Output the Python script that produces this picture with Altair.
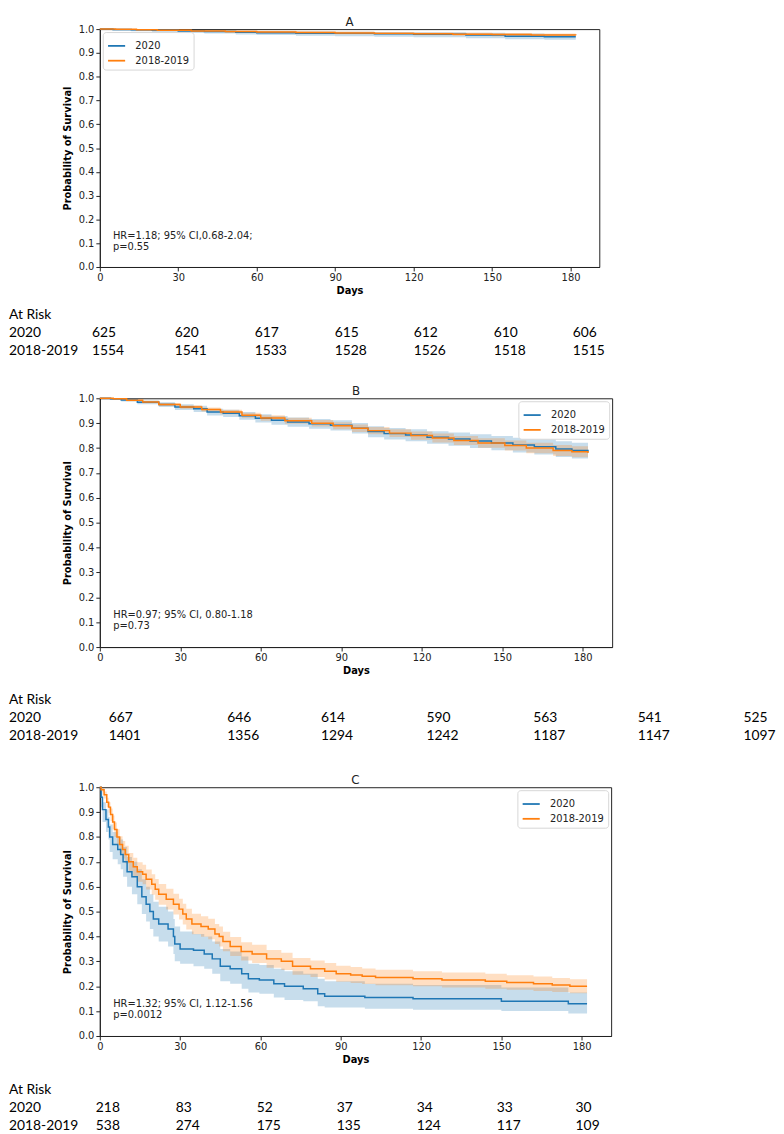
import altair as alt
import pandas as pd

groups = ["2020", "2018-2019"]
palette = ["#1f77b4", "#ff7f0e"]
tick_days = [0, 30, 60, 90, 120, 150, 180]
prob_ticks = [0.0, 0.1, 0.2, 0.3, 0.4, 0.5, 0.6, 0.7, 0.8, 0.9, 1.0]
row_labels = ["At Risk", "2020", "2018-2019"]

# panel A
a_days_2020 = [0, 5, 12, 20, 30, 40, 52, 60, 75, 90, 105, 120, 140, 155, 170, 182]
a_surv_2020 = [1.0, 0.998, 0.997, 0.995, 0.992, 0.99, 0.987, 0.985, 0.983, 0.982, 0.98, 0.978, 0.975, 0.97, 0.968, 0.968]
a_lo_2020 = [1.0, 0.994, 0.991, 0.988, 0.984, 0.981, 0.977, 0.975, 0.972, 0.97, 0.968, 0.966, 0.962, 0.957, 0.955, 0.955]
a_hi_2020 = [1.0, 1.0, 0.999, 0.998, 0.996, 0.995, 0.993, 0.992, 0.99, 0.989, 0.988, 0.987, 0.985, 0.981, 0.979, 0.979]
a_days_2018 = [0, 6, 14, 22, 35, 48, 60, 75, 90, 105, 120, 135, 150, 165, 182]
a_surv_2018 = [1.0, 0.999, 0.997, 0.995, 0.992, 0.99, 0.988, 0.986, 0.984, 0.982, 0.98, 0.978, 0.977, 0.975, 0.974]
a_lo_2018 = [1.0, 0.997, 0.994, 0.992, 0.988, 0.985, 0.983, 0.98, 0.978, 0.976, 0.974, 0.972, 0.97, 0.968, 0.967]
a_hi_2018 = [1.0, 1.0, 0.999, 0.998, 0.996, 0.994, 0.993, 0.991, 0.99, 0.988, 0.986, 0.985, 0.984, 0.982, 0.981]
a_risk_2020 = [625, 620, 617, 615, 612, 610, 606]
a_risk_2018 = [1554, 1541, 1533, 1528, 1526, 1518, 1515]
a_note = ["HR=1.18; 95% CI,0.68-2.04;", "p=0.55"]

# panel B
b_days_2020 = [0, 4, 8, 14, 22, 28, 35, 40, 46, 52, 58, 64, 70, 78, 86, 94, 100, 106, 114, 122, 130, 138, 146, 154, 162, 170, 176, 182]
b_surv_2020 = [1.0, 0.998, 0.993, 0.984, 0.975, 0.965, 0.958, 0.945, 0.94, 0.93, 0.92, 0.912, 0.905, 0.898, 0.892, 0.88, 0.866, 0.858, 0.852, 0.843, 0.836, 0.828, 0.82, 0.812, 0.805, 0.796, 0.79, 0.785]
b_lo_2020 = [1.0, 0.995, 0.987, 0.976, 0.965, 0.953, 0.945, 0.931, 0.925, 0.914, 0.903, 0.894, 0.886, 0.878, 0.871, 0.858, 0.843, 0.834, 0.827, 0.817, 0.809, 0.8, 0.791, 0.782, 0.774, 0.764, 0.758, 0.753]
b_hi_2020 = [1.0, 1.0, 0.998, 0.991, 0.984, 0.976, 0.97, 0.958, 0.954, 0.945, 0.936, 0.929, 0.923, 0.917, 0.912, 0.901, 0.888, 0.881, 0.876, 0.868, 0.862, 0.855, 0.848, 0.841, 0.835, 0.827, 0.821, 0.816]
b_days_2018 = [0, 5, 10, 16, 22, 30, 38, 45, 53, 60, 69, 79, 87, 94, 100, 108, 116, 124, 132, 141, 151, 159, 169, 176, 182]
b_surv_2018 = [1.0, 0.998, 0.992, 0.985, 0.975, 0.965, 0.955, 0.945, 0.932, 0.921, 0.91, 0.9, 0.89, 0.88, 0.87, 0.86, 0.85, 0.84, 0.83, 0.82, 0.81, 0.8, 0.79, 0.785, 0.78]
b_lo_2018 = [1.0, 0.996, 0.988, 0.98, 0.969, 0.958, 0.947, 0.936, 0.922, 0.91, 0.898, 0.887, 0.876, 0.865, 0.855, 0.844, 0.833, 0.822, 0.812, 0.801, 0.79, 0.779, 0.768, 0.763, 0.758]
b_hi_2018 = [1.0, 0.999, 0.995, 0.99, 0.981, 0.972, 0.963, 0.954, 0.942, 0.932, 0.922, 0.913, 0.904, 0.895, 0.885, 0.876, 0.867, 0.858, 0.848, 0.839, 0.83, 0.821, 0.812, 0.807, 0.802]
b_risk_2020 = [667, 646, 614, 590, 563, 541, 525]
b_risk_2018 = [1401, 1356, 1294, 1242, 1187, 1147, 1097]
b_note = ["HR=0.97; 95% CI, 0.80-1.18", "p=0.73"]

# panel C
c_days_2020 = [0, 0.5, 1, 2.3, 3.2, 3.7, 4.8, 6.7, 7.8, 8.7, 10.2, 12, 14, 15.7, 17.3, 18.7, 20, 22, 25.5, 27.5,
               28, 30, 35, 39, 42, 45, 48.7, 53, 55.5, 59.6, 65, 69, 76, 81.4, 84, 99, 117, 150, 175, 182]
c_surv_2020 = [1.0, 0.96, 0.91, 0.87, 0.84, 0.80, 0.77, 0.75, 0.73, 0.70, 0.66, 0.64, 0.60, 0.56, 0.53, 0.50, 0.47, 0.45, 0.43, 0.40,
               0.37, 0.35, 0.345, 0.33, 0.31, 0.28, 0.27, 0.25, 0.23, 0.225, 0.21, 0.20, 0.19, 0.17, 0.16, 0.155, 0.15, 0.14, 0.13, 0.13]
c_lo_2020 = [1.0, 0.92, 0.86, 0.82, 0.79, 0.74, 0.71, 0.69, 0.67, 0.64, 0.60, 0.57, 0.53, 0.49, 0.46, 0.43, 0.40, 0.38, 0.36, 0.33,
             0.30, 0.29, 0.28, 0.27, 0.25, 0.22, 0.21, 0.19, 0.175, 0.17, 0.155, 0.145, 0.14, 0.12, 0.115, 0.11, 0.105, 0.10, 0.09, 0.09]
c_hi_2020 = [1.0, 0.98, 0.94, 0.91, 0.88, 0.85, 0.82, 0.80, 0.79, 0.76, 0.72, 0.70, 0.67, 0.63, 0.60, 0.57, 0.54, 0.52, 0.50, 0.47,
             0.44, 0.42, 0.41, 0.40, 0.38, 0.35, 0.34, 0.32, 0.29, 0.285, 0.27, 0.26, 0.25, 0.23, 0.22, 0.21, 0.205, 0.195, 0.175, 0.175]
c_days_2018 = [0, 0.5, 1.6, 2.6, 3.3, 4, 4.8, 5.5, 6.4, 7.4, 8.5, 9.5, 10.8, 12.5, 14, 16, 17.3, 19.4, 20.7, 22,
               24.8, 27.5, 29.6, 31, 32.3, 34.4, 37.8, 40.5, 43, 44.6, 46, 48.7, 52.8, 56.9, 62.3, 67.8, 72, 78.7, 84, 88.3,
               93.7, 98, 103, 117, 127.8, 144, 152, 162, 169, 175.6, 182]
c_surv_2018 = [1.0, 0.99, 0.97, 0.94, 0.92, 0.89, 0.86, 0.83, 0.80, 0.77, 0.75, 0.73, 0.70, 0.68, 0.66, 0.65, 0.63, 0.61, 0.59, 0.57,
               0.55, 0.53, 0.51, 0.49, 0.47, 0.45, 0.44, 0.43, 0.41, 0.40, 0.38, 0.36, 0.34, 0.33, 0.31, 0.30, 0.28, 0.27, 0.26, 0.25,
               0.245, 0.24, 0.235, 0.23, 0.225, 0.22, 0.215, 0.21, 0.205, 0.20, 0.20]
c_lo_2018 = [1.0, 0.98, 0.955, 0.92, 0.897, 0.864, 0.832, 0.8, 0.767, 0.735, 0.714, 0.693, 0.662, 0.641, 0.62, 0.61, 0.589, 0.568, 0.548, 0.528,
             0.508, 0.488, 0.468, 0.448, 0.428, 0.409, 0.399, 0.389, 0.37, 0.36, 0.341, 0.322, 0.303, 0.293, 0.274, 0.265, 0.246, 0.237, 0.227, 0.218,
             0.213, 0.209, 0.204, 0.2, 0.195, 0.19, 0.186, 0.181, 0.177, 0.172, 0.172]
c_hi_2018 = [1.0, 0.998, 0.983, 0.958, 0.94, 0.914, 0.886, 0.858, 0.831, 0.803, 0.784, 0.765, 0.736, 0.717, 0.698, 0.688, 0.669, 0.65, 0.631, 0.611,
             0.592, 0.572, 0.552, 0.532, 0.512, 0.491, 0.481, 0.471, 0.45, 0.44, 0.419, 0.398, 0.377, 0.367, 0.346, 0.335, 0.314, 0.303, 0.293, 0.282,
             0.277, 0.271, 0.266, 0.26, 0.255, 0.25, 0.244, 0.239, 0.233, 0.228, 0.228]
c_risk_2020 = [218, 83, 52, 37, 34, 33, 30]
c_risk_2018 = [538, 274, 175, 135, 124, 117, 109]
c_note = ["HR=1.32; 95% CI, 1.12-1.56", "p=0.0012"]

note_x = 5
note_y = [0.13, 0.085]

FONT = "DejaVu Sans"


def km_frame(series):
    parts = []
    for group, days, surv, lo, hi in series:
        parts.append(pd.DataFrame({"group": group, "day": days, "surv": surv, "lo": lo, "hi": hi}))
    return pd.concat(parts, ignore_index=True)


def km_panel(name, df, note, width, height, orient):
    xscale = alt.Scale(domain=[0, 191], nice=False, zero=False)
    yscale = alt.Scale(domain=[0, 1], nice=False)
    xaxis = alt.Axis(values=tick_days, titlePadding=3, labelFlush=False, labelOverlap=False)
    yaxis = alt.Axis(values=prob_ticks, format=".1f", titlePadding=6,
                     labelFlush=False, labelOverlap=False)
    x = alt.X("day:Q", title="Days", scale=xscale, axis=xaxis)
    cscale = alt.Scale(domain=groups, range=palette)
    legend = alt.Legend(
        title=None, orient=orient, offset=3, symbolType="stroke",
        symbolSize=300, symbolStrokeWidth=1.8, symbolOpacity=1, labelFont=FONT,
        labelFontSize=10, labelColor="#222", labelOffset=9,
        padding=4, rowPadding=0, strokeColor="#d6d6d6",
        fillColor="white", cornerRadius=3,
    )

    band = alt.Chart(df).mark_area(interpolate="step-after", opacity=0.25).encode(
        x=x,
        y=alt.Y("lo:Q", title="Probability of Survival", scale=yscale, axis=yaxis),
        y2="hi:Q",
        color=alt.Color("group:N", scale=cscale, legend=legend),
    )
    line = alt.Chart(df).mark_line(interpolate="step-after", strokeWidth=1.5).encode(
        x=x,
        y=alt.Y("surv:Q", title="Probability of Survival", scale=yscale, axis=yaxis),
        color=alt.Color("group:N", scale=cscale, legend=legend),
    )
    notes = alt.Chart(pd.DataFrame({"day": [note_x, note_x], "surv": note_y, "text": note})).mark_text(
        align="left", baseline="middle", font=FONT, fontSize=10, color="#222"
    ).encode(
        x=x,
        y=alt.Y("surv:Q", title="Probability of Survival", scale=yscale, axis=yaxis),
        text="text:N",
    )

    return alt.layer(band, line, notes).properties(
        width=width, height=height,
        title=alt.TitleParams(name, font=FONT, fontSize=12, fontWeight="normal",
                              color="#222", offset=-5, frame="group"),
    )


def risk_table(n_2020, n_2018, cols_px, rows_px, width, height):
    recs = [{"col": 0, "row": i, "text": t} for i, t in enumerate(row_labels)]
    for j, (a, b) in enumerate(zip(n_2020, n_2018)):
        recs.append({"col": j + 1, "row": 1, "text": str(a)})
        recs.append({"col": j + 1, "row": 2, "text": str(b)})
    return alt.Chart(pd.DataFrame(recs)).mark_text(
        align="left", baseline="middle", font="Lato", fontSize=14, color="black"
    ).encode(
        x=alt.X("col:Q", scale=alt.Scale(domain=list(range(8)), range=cols_px, nice=False, zero=False), axis=None),
        y=alt.Y("row:Q", scale=alt.Scale(domain=[0, 1, 2], range=rows_px, nice=False, zero=False), axis=None),
        text="text:N",
    ).properties(width=width, height=height, view=alt.ViewBackground(stroke="transparent"))


df_a = km_frame([("2020", a_days_2020, a_surv_2020, a_lo_2020, a_hi_2020),
                 ("2018-2019", a_days_2018, a_surv_2018, a_lo_2018, a_hi_2018)])
df_b = km_frame([("2020", b_days_2020, b_surv_2020, b_lo_2020, b_hi_2020),
                 ("2018-2019", b_days_2018, b_surv_2018, b_lo_2018, b_hi_2018)])
df_c = km_frame([("2020", c_days_2020, c_surv_2020, c_lo_2020, c_hi_2020),
                 ("2018-2019", c_days_2018, c_surv_2018, c_lo_2018, c_hi_2018)])

panel_a = km_panel("A", df_a, a_note, 506, 241, "top-left")
table_a = risk_table(a_risk_2020, a_risk_2018, [-92, -8, 76, 157, 238, 318, 399, 479], [18, 36, 54], 506, 87)
panel_b = km_panel("B", df_b, b_note, 519, 252, "top-right")
table_b = risk_table(b_risk_2020, b_risk_2018, [-92, 9, 129, 224, 331, 439, 545, 652], [23, 41, 59], 519, 96)
panel_c = km_panel("C", df_c, c_note, 518, 252, "top-right")
table_c = risk_table(c_risk_2020, c_risk_2018, [-92, -4, 77, 159, 240, 321, 402, 482], [24, 42, 60], 518, 66)

chart = alt.vconcat(
    panel_a, table_a, panel_b, table_b, panel_c, table_c, spacing=0
).resolve_scale(
    x="independent", y="independent", color="independent"
).resolve_legend(
    color="independent"
).properties(
    padding=0, background="white"
).configure_view(
    stroke="#222", strokeWidth=1
).configure_axis(
    labelFont=FONT, labelFontSize=10, labelColor="#222", labelPadding=2,
    labelOverlap=False,
    titleFont=FONT, titleFontSize=10, titleFontWeight="bold", titleColor="black",
    domainColor="#222", tickColor="#222", tickSize=4, grid=False,
)

chart.save("out.html", embed_options={"renderer": "svg", "actions": False})
